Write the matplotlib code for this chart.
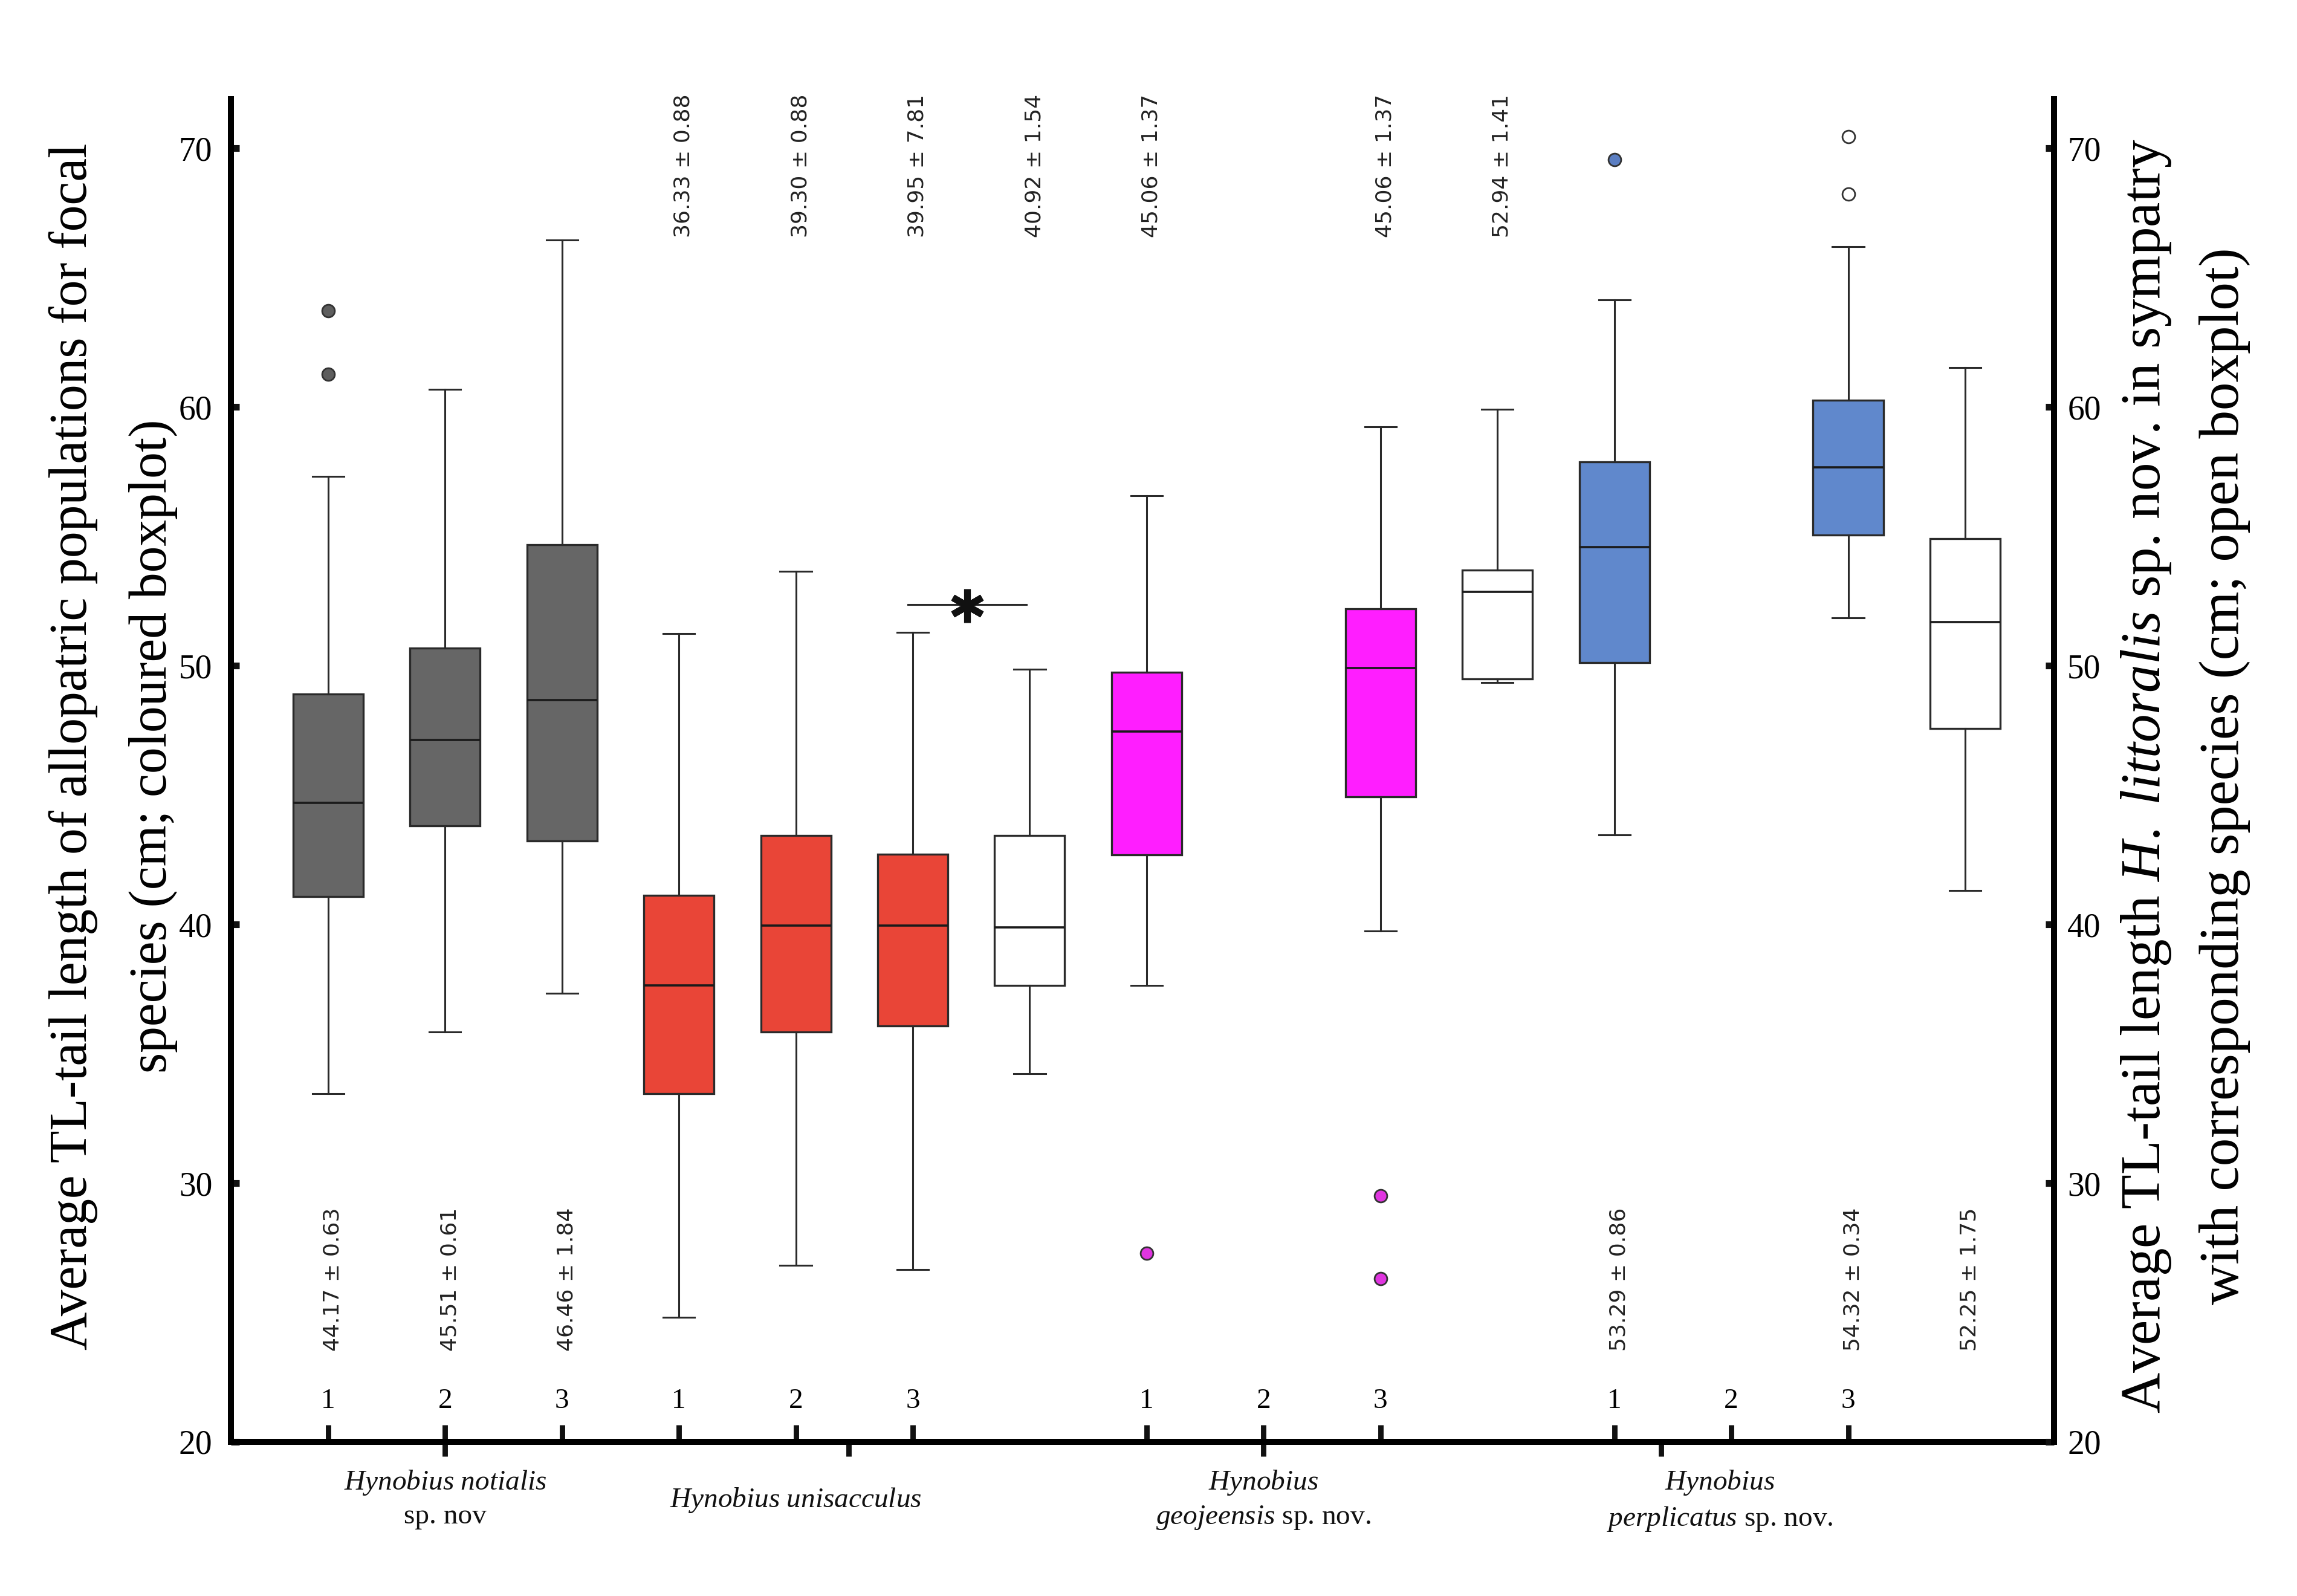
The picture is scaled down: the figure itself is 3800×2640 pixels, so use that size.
import matplotlib
matplotlib.use("Agg")
import matplotlib.pyplot as plt

plt.rcParams['font.family'] = ['Liberation Serif', 'DejaVu Serif']
plt.rcParams['mathtext.fontset'] = 'custom'
plt.rcParams['mathtext.rm'] = 'Liberation Serif'
plt.rcParams['mathtext.it'] = 'Liberation Serif:italic'
plt.rcParams['mathtext.bf'] = 'Liberation Serif:bold'

# ---------------- data ----------------
positions = [0, 1, 2, 3, 4, 5, 6, 7, 9, 10, 11, 13, 14]
whislo = [33.46, 35.84, 37.34, 24.82, 26.82, 26.65, 34.23, 37.64, 39.75, 49.35, 43.46, 51.84, 41.31]
q1     = [41.08, 43.81, 43.23, 33.46, 35.84, 36.08, 37.64, 42.69, 44.94, 49.50, 50.12, 55.05, 47.58]
med    = [44.70, 47.14, 48.67, 37.64, 39.96, 39.96, 39.89, 47.46, 49.91, 52.86, 54.58, 57.66, 51.68]
q3     = [48.91, 50.68, 54.68, 41.13, 43.44, 42.72, 43.44, 49.75, 52.19, 53.70, 57.88, 60.27, 54.92]
whishi = [57.31, 60.69, 66.46, 51.25, 53.65, 51.29, 49.87, 56.58, 59.24, 59.92, 64.13, 66.19, 61.53]
fliers = [[61.27, 63.73], [], [], [], [], [], [], [27.29], [29.50, 26.30], [], [69.57],
          [68.24, 70.46], []]

box_colors = ['#666666', '#666666', '#666666',
              '#E94537', '#E94537', '#E94537', '#FFFFFF',
              '#FF1EFF', '#FF1EFF', '#FFFFFF',
              '#6088CC', '#6088CC', '#FFFFFF']
flier_colors = ['#5E5E5E', '#5E5E5E', '#5E5E5E',
                '#E94537', '#E94537', '#E94537', '#FFFFFF',
                '#E035E0', '#E035E0', '#FFFFFF',
                '#5B7EC2', '#FFFFFF', '#FFFFFF']

top_ann_pos = [3, 4, 5, 6, 7, 9, 10]
top_ann_text = ['36.33 ± 0.88', '39.30 ± 0.88', '39.95 ± 7.81', '40.92 ± 1.54',
                '45.06 ± 1.37', '45.06 ± 1.37', '52.94 ± 1.41']
bot_ann_pos = [0, 1, 2, 11, 13, 14]
bot_ann_text = ['44.17 ± 0.63', '45.51 ± 0.61', '46.46 ± 1.84',
                '53.29 ± 0.86', '54.32 ± 0.34', '52.25 ± 1.75']

pop_tick_pos = [0, 1, 2, 3, 4, 5, 7, 8, 9, 11, 12, 13]
pop_tick_labels = ['1', '2', '3', '1', '2', '3', '1', '2', '3', '1', '2', '3']
group_tick_pos = [1, 4.45, 8, 11.4]
group_label_pos = [1, 4, 8, 11.9]
group_labels = [r'$\mathit{Hynobius\ notialis}$' + '\nsp. nov',
                r'$\mathit{Hynobius\ unisacculus}$',
                r'$\mathit{Hynobius}$' + '\n' + r'$\mathit{geojeensis}$ sp. nov.',
                r'$\mathit{Hynobius}$' + '\n' + r'$\mathit{perplicatus}$ sp. nov.']
group_label_y = [-0.020, -0.033, -0.020, -0.020]

sig_x = [4.96, 5.97]
sig_y = 52.37

yticks = [20, 30, 40, 50, 60, 70]

left_label = ("Average TL-tail length of allopatric populations for focal\n"
              "species (cm; coloured boxplot)")
right_label = (r"Average TL-tail length $\mathit{H.\ littoralis}$ sp. nov. in sympatry" + "\n"
               "with corresponding species (cm; open boxplot)")

# ---------------- figure ----------------
fig = plt.figure(figsize=(19, 13.2), dpi=200)
ax = fig.add_axes([0.1005, 0.0966, 0.7937, 0.8413])
ax2 = ax.twinx()

stats = []
for i in range(len(positions)):
    stats.append(dict(med=med[i], q1=q1[i], q3=q3[i], whislo=whislo[i],
                      whishi=whishi[i], fliers=fliers[i]))

edge = '#2a2a2a'
bp = ax.bxp(stats, positions=positions, widths=0.6, capwidths=0.27,
            patch_artist=True, showfliers=True, manage_ticks=False,
            boxprops=dict(edgecolor=edge, linewidth=1.2),
            whiskerprops=dict(color=edge, linewidth=1.1),
            capprops=dict(color=edge, linewidth=1.1),
            medianprops=dict(color='#1a1a1a', linewidth=1.3),
            flierprops=dict(marker='o', markersize=7.5, markeredgecolor='#333333',
                            markeredgewidth=1.0, linestyle='none'))
for patch, c in zip(bp['boxes'], box_colors):
    patch.set_facecolor(c)
for fl, c in zip(bp['fliers'], flier_colors):
    fl.set_markerfacecolor(c)

# significance
ax.plot(sig_x, [sig_y, sig_y], color=edge, lw=1.1)
ax.plot([(sig_x[0] + sig_x[1]) / 2], [sig_y - 0.05], marker=(6, 2, 0), ms=20,
        mew=4.0, color='#111111', linestyle='none')

# annotations
for x, s in zip(top_ann_pos, top_ann_text):
    ax.text(x + 0.04, 72.1, s, rotation=90, ha='center', va='top',
            family='DejaVu Sans', fontsize=13, color='#222222', clip_on=False)
for x, s in zip(bot_ann_pos, bot_ann_text):
    ax.text(x + 0.04, 23.5, s, rotation=90, ha='center', va='bottom',
            family='DejaVu Sans', fontsize=13, color='#222222', clip_on=False)

# group labels
for x, s, y in zip(group_label_pos, group_labels, group_label_y):
    ax.text(x, y, s, transform=ax.get_xaxis_transform(), ha='center', va='top',
            multialignment='center', fontsize=17, linespacing=1.35, color='#111111')

# axes limits and ticks
ax.set_xlim(-0.832, 14.76)
ax.set_ylim(20, 71.9)
ax2.set_ylim(20, 71.9)

ax.set_xticks(pop_tick_pos, pop_tick_labels)
ax.set_xticks(group_tick_pos, minor=True)
ax.xaxis.remove_overlapping_locs = False
ax.tick_params(axis='x', which='major', direction='in', length=10, width=3.2,
               pad=-32, labelsize=17, color='#111111')
ax.tick_params(axis='x', which='minor', direction='out', length=8.5, width=3.2,
               labelbottom=False, color='#111111')

ax.set_yticks(yticks)
ax.tick_params(axis='y', which='major', direction='in', length=5, width=4,
               pad=11, labelsize=20, color='#111111')
ax2.set_yticks(yticks)
ax2.tick_params(axis='y', which='major', direction='in', length=5, width=4,
                pad=8, labelsize=20, color='#111111')

for sp in ['top', 'right']:
    ax.spines[sp].set_visible(False)
for sp in ['top', 'left', 'bottom']:
    ax2.spines[sp].set_visible(False)
for s in [ax.spines['left'], ax.spines['bottom'], ax2.spines['right']]:
    s.set_linewidth(3.6)
    s.set_capstyle('projecting')

ax.set_ylabel(left_label, fontsize=31.5, linespacing=1.82, ha='center', va='center',
              multialignment='center')
ax.yaxis.set_label_coords(-0.0645, 0.518)
ax2.set_ylabel(right_label, fontsize=33.5, linespacing=1.65, ha='center', va='center',
               multialignment='center', rotation=90)
ax2.yaxis.set_label_coords(1.0718, 0.4957)

fig.savefig('out.png', dpi=200, facecolor='white')
